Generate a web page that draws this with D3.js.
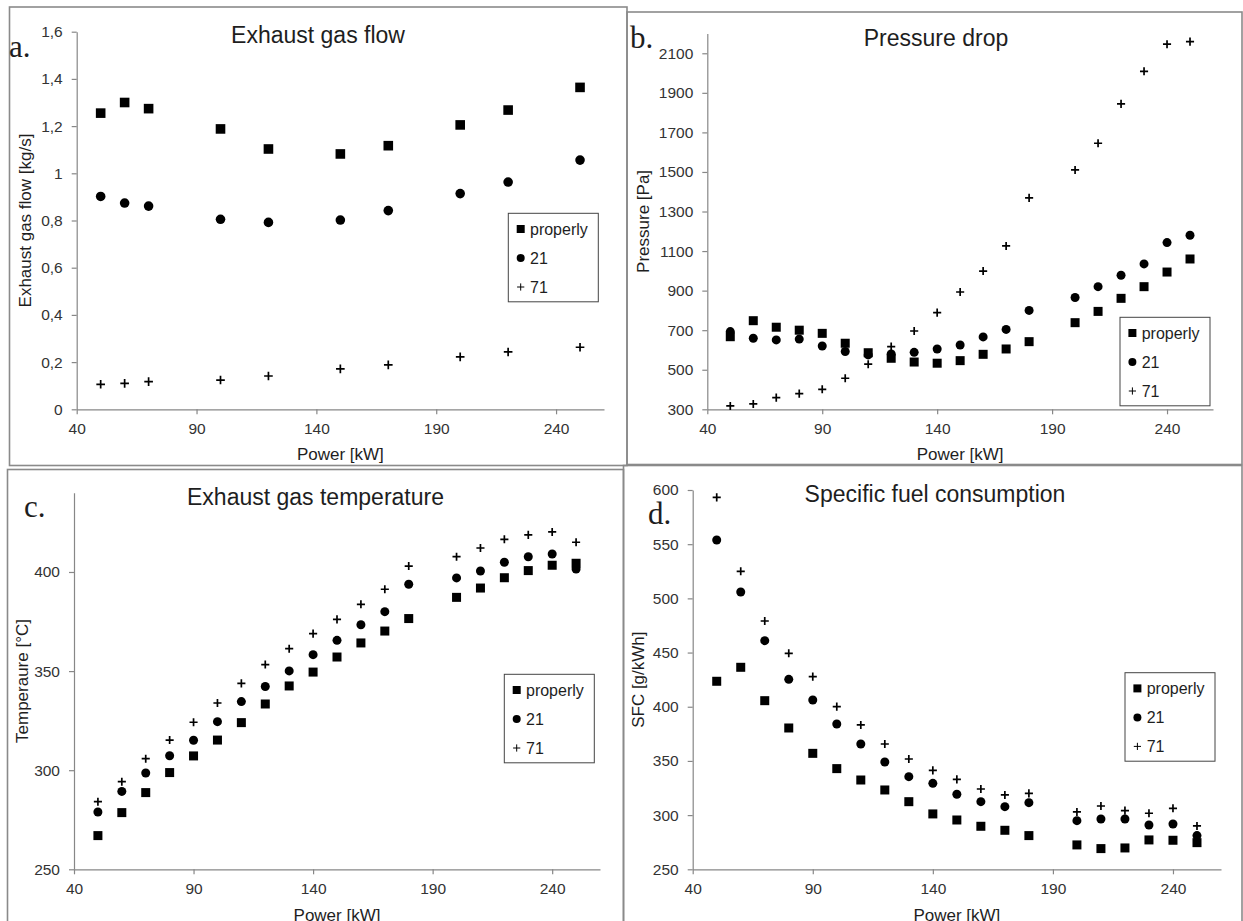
<!DOCTYPE html>
<html lang="en">
<head>
    <meta charset="utf-8" />
    <title>Exhaust measurements</title>
    <script src="https://cdnjs.cloudflare.com/ajax/libs/d3/7.8.5/d3.min.js"></script>
    <style>
        body { margin: 0; background: #fff; }
        svg text { font-family: "Liberation Sans", Arial, sans-serif; fill: #1e1e1e; }
        .axis path, .axis line { stroke: #878787; stroke-width: 1.2px; }
        .axis text { font-size: 15.5px; fill: #333; }
        .frame { fill: none; stroke: #8a8a8a; stroke-width: 1.6px; }
        .title { font-size: 23px; }
        .axis-label { font-size: 17px; }
        .letter { font-family: "Liberation Serif", "Times New Roman", serif !important; font-size: 31px; }
        .legend rect.box { fill: #fff; stroke: #444; stroke-width: 1px; }
        .legend text { font-size: 16px; }
    </style>
</head>
<body>
<div id="chart"></div>

<script>
    // series names shared by all four panels
    const seriesNames = ["properly", "21", "71"];

    // a. exhaust gas flow [kg/s]
    const powerFlow = [50, 60, 70, 100, 120, 150, 170, 200, 220, 250];
    const flowProperly = [1.255, 1.30, 1.274, 1.188, 1.103, 1.082, 1.117, 1.205, 1.268, 1.364];
    const flow21 = [0.902, 0.874, 0.861, 0.805, 0.792, 0.802, 0.842, 0.914, 0.963, 1.056];
    const flow71 = [0.106, 0.110, 0.117, 0.124, 0.141, 0.171, 0.188, 0.222, 0.243, 0.263];

    // b, c, d share the same power steps
    const power = [50, 60, 70, 80, 90, 100, 110, 120, 130, 140, 150, 160, 170, 180, 200, 210, 220, 230, 240, 250];

    // b. pressure drop [Pa]
    const pressureProperly = [667, 748, 715, 700, 684, 634, 586, 558, 539, 533, 546, 578, 605, 642, 738, 795, 861, 920, 994, 1060];
    const pressure21 = [693, 659, 651, 655, 620, 592, 575, 580, 588, 605, 625, 666, 704, 800, 865, 920, 978, 1035, 1143, 1180];
    const pressure71 = [317, 327, 359, 379, 401, 457, 528, 617, 696, 789, 893, 999, 1126, 1369, 1510, 1645, 1844, 2009, 2146, 2159];

    // c. exhaust gas temperature [°C]
    const tempProperly = [267.0, 278.6, 288.7, 298.8, 307.2, 315.2, 324.0, 333.4, 342.5, 349.5, 357.1, 364.2, 370.2, 376.5, 387.2, 391.9, 397.1, 400.7, 403.4, 404.4];
    const temp21 = [278.9, 289.3, 298.6, 307.3, 315.1, 324.5, 334.6, 342.2, 350.1, 358.3, 365.5, 373.4, 380.0, 393.8, 397.0, 400.5, 404.9, 407.7, 409.1, 401.5];
    const temp71 = [284.1, 294.2, 305.8, 315.2, 324.2, 333.9, 343.8, 353.3, 361.3, 368.9, 376.1, 383.7, 391.3, 403.0, 407.7, 412.1, 416.5, 418.7, 420.2, 415.0];

    // d. specific fuel consumption [g/kWh]
    const sfcProperly = [423.5, 436.4, 405.6, 380.4, 357.0, 342.9, 332.4, 323.2, 312.4, 301.1, 295.5, 289.7, 286.0, 281.1, 272.5, 269.1, 269.7, 277.1, 276.8, 274.6];
    const sfc21 = [553.9, 505.9, 461.0, 425.3, 406.2, 384.1, 365.6, 349.0, 335.5, 329.3, 319.2, 312.4, 307.8, 311.5, 294.9, 296.4, 296.4, 290.9, 291.8, 281.1];
    const sfc71 = [593.2, 525.0, 479.1, 449.3, 427.8, 400.1, 383.2, 365.6, 351.8, 341.3, 333.0, 324.1, 318.6, 320.1, 302.9, 308.4, 304.1, 301.7, 306.3, 290.0];

    // tick values and labels
    const powerTicks = [40, 90, 140, 190, 240];
    const flowTicks = [0, 0.2, 0.4, 0.6, 0.8, 1, 1.2, 1.4, 1.6];
    const flowTickLabels = ["0", "0,2", "0,4", "0,6", "0,8", "1", "1,2", "1,4", "1,6"];
    const pressureTicks = [300, 500, 700, 900, 1100, 1300, 1500, 1700, 1900, 2100];
    const tempTicks = [250, 300, 350, 400];
    const sfcTicks = [250, 300, 350, 400, 450, 500, 550, 600];

    const width = 1243;
    const height = 921;

    const panels = [
        {
            letter: "a.", title: "Exhaust gas flow", yLabel: "Exhaust gas flow [kg/s]",
            x: powerFlow, series: [flowProperly, flow21, flow71],
            yDomain: [0, 1.6], yTicks: flowTicks, yLabels: flowTickLabels,
            frame: [9.5, 7, 627, 465.5],
            plot: { left: 76.7, right: 604, top: 31.7, bottom: 409.3 },
            titleAt: [318, 43], letterAt: [9, 57], xLabelY: 460, yLabelX: 25,
            legendAt: [508.3, 213.3], mark: 9.6
        },
        {
            letter: "b.", title: "Pressure drop", yLabel: "Pressure [Pa]",
            x: power, series: [pressureProperly, pressure21, pressure71],
            yDomain: [300, 2200], yTicks: pressureTicks,
            frame: [627, 12, 1242, 464.5],
            plot: { left: 707.3, right: 1213, top: 33.5, bottom: 409.3 },
            titleAt: [936, 46], letterAt: [630, 48], xLabelY: 460, yLabelX: 643,
            legendAt: [1120, 317.3], mark: 9
        },
        {
            letter: "c.", title: "Exhaust gas temperature", yLabel: "Temperaure [°C]",
            x: power, series: [tempProperly, temp21, temp71],
            yDomain: [250, 440], yTicks: tempTicks,
            frame: [7.5, 469.5, 623.5, 935],
            plot: { left: 74, right: 600, top: 492.7, bottom: 869.3 },
            titleAt: [315.5, 505], letterAt: [24, 517], xLabelY: 921, yLabelX: 22,
            legendAt: [504.3, 674.3], mark: 9
        },
        {
            letter: "d.", title: "Specific fuel consumption", yLabel: "SFC [g/kWh]",
            x: power, series: [sfcProperly, sfc21, sfc71],
            yDomain: [250, 600], yTicks: sfcTicks,
            frame: [623.5, 465.5, 1242, 935],
            plot: { left: 692.7, right: 1221, top: 490, bottom: 869.3 },
            titleAt: [935, 502], letterAt: [648, 524], xLabelY: 921, yLabelX: 638,
            legendAt: [1125, 672.7], mark: 9
        }
    ];

    const svg = d3.select("#chart")
        .append("svg")
        .attr("width", width)
        .attr("height", height);

    // draws one marker shape (square, circle, plus) centred on 0,0
    function drawMarker(g, kind, size, thin) {
        if (kind === 0) {
            g.append("rect")
                .attr("x", -size / 2).attr("y", -size / 2)
                .attr("width", size).attr("height", size)
                .attr("fill", "#000");
        } else if (kind === 1) {
            g.append("circle").attr("r", size / 2).attr("fill", "#000");
        } else {
            const h = size * 0.45;
            g.append("path")
                .attr("d", `M${-h},0H${h}M0,${-h}V${h}`)
                .attr("stroke", "#000")
                .attr("stroke-width", thin ? 1 : 1.7)
                .attr("fill", "none");
        }
    }

    panels.forEach(p => {
        const g = svg.append("g");

        const [fx1, fy1, fx2, fy2] = p.frame;
        g.append("rect")
            .attr("class", "frame")
            .attr("x", fx1).attr("y", fy1)
            .attr("width", fx2 - fx1).attr("height", fy2 - fy1);

        const x = d3.scaleLinear().domain([40, 260]).range([p.plot.left, p.plot.right]);
        const y = d3.scaleLinear().domain(p.yDomain).range([p.plot.bottom, p.plot.top]);

        const xAxis = d3.axisBottom(x)
            .tickValues(powerTicks)
            .tickSize(5).tickSizeOuter(0).tickPadding(9);
        const yAxis = d3.axisLeft(y)
            .tickValues(p.yTicks)
            .tickSize(5).tickSizeOuter(0).tickPadding(9)
            .tickFormat((d, i) => p.yLabels ? p.yLabels[i] : d);

        g.append("g")
            .attr("class", "axis")
            .attr("transform", `translate(0,${p.plot.bottom})`)
            .call(xAxis);
        g.append("g")
            .attr("class", "axis")
            .attr("transform", `translate(${p.plot.left},0)`)
            .call(yAxis);

        // points, drawn in series order so "71" ends up on top
        p.series.forEach((vals, s) => {
            vals.forEach((v, i) => {
                const m = g.append("g")
                    .attr("transform", `translate(${x(p.x[i])},${y(v)})`);
                drawMarker(m, s, p.mark, false);
            });
        });

        g.append("text")
            .attr("class", "title")
            .attr("x", p.titleAt[0]).attr("y", p.titleAt[1])
            .attr("text-anchor", "middle")
            .text(p.title);

        g.append("text")
            .attr("class", "letter")
            .attr("x", p.letterAt[0]).attr("y", p.letterAt[1])
            .text(p.letter);

        g.append("text")
            .attr("class", "axis-label")
            .attr("x", (p.plot.left + p.plot.right) / 2)
            .attr("y", p.xLabelY)
            .attr("text-anchor", "middle")
            .text("Power [kW]");

        const yMid = (p.plot.top + p.plot.bottom) / 2;
        g.append("text")
            .attr("class", "axis-label")
            .attr("transform", `translate(${p.yLabelX},${yMid}) rotate(-90)`)
            .attr("text-anchor", "middle")
            .attr("dy", "0.35em")
            .text(p.yLabel);

        // legend
        const lg = g.append("g")
            .attr("class", "legend")
            .attr("transform", `translate(${p.legendAt[0]},${p.legendAt[1]})`);
        lg.append("rect").attr("class", "box")
            .attr("width", 90).attr("height", 88.5);
        seriesNames.forEach((name, s) => {
            const row = lg.append("g")
                .attr("transform", `translate(12.4,${15.7 + s * 29})`);
            drawMarker(row, s, 8, true);
            row.append("text")
                .attr("x", 9.3)
                .attr("dy", "0.36em")
                .text(name);
        });
    });
</script>
</body>
</html>
